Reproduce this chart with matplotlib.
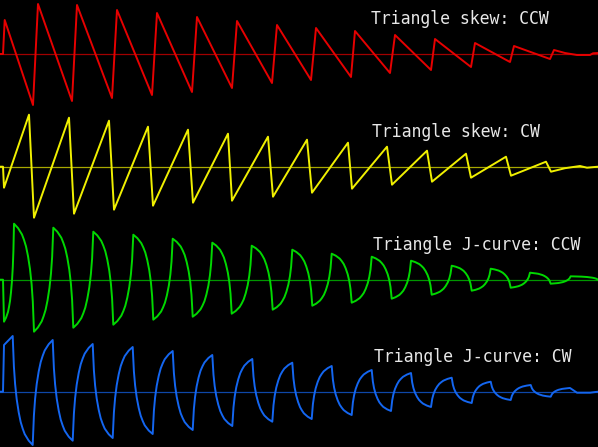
import matplotlib
matplotlib.use("Agg")
import matplotlib.pyplot as plt

# Key points of each trace (x = sample, y = amplitude, up is positive)
red_x = [0, 3, 4.7, 33, 38, 72, 77, 112, 117, 152, 157, 192, 197, 232, 237, 272, 277,
         311, 316, 351, 355, 390, 395, 431, 435, 471, 475, 510, 514, 550, 554, 565, 577, 590, 593, 598]
red_y = [0, 0, 34, -51, 50, -47, 49, -44, 44, -41, 41, -38, 37, -34, 33, -29, 29,
         -26, 26, -23, 23, -19, 19, -16, 15, -13, 11, -8, 8, -5, 4, 1, -1, -1, 0.7, 1]

yellow_x = [0, 3, 4, 29, 34, 69, 74, 109, 114, 148, 153, 188, 193, 228, 232, 268, 273,
            307, 312, 348, 352, 387, 392, 427, 432, 466, 471, 506, 511, 546, 551, 565, 580, 587, 598]
yellow_y = [0, 0, -21, 52, -51, 49, -47, 46, -43, 40, -39, 37, -36, 33, -34, 30, -30,
            27, -26, 24, -22, 20, -18, 16, -15, 13, -11, 10, -9, 5, -5, -1.5, 0.7, -1, 0]

green_x = [0, 3, 4, 14, 34, 53.3, 73.3, 93.3, 113.3, 133.3, 153.3, 172.7, 192.7, 212.3, 231.7,
           251.7, 272.7, 292.3, 312.3, 331.7, 351.7, 371.7, 391.7, 411, 431.7, 451.7, 471.7,
           490.7, 510.7, 530, 550.7, 570.7, 598]
green_y = [0, 0, -42, 56, -52, 52, -48, 48, -45, 45, -40, 41, -37, 37, -34,
           34, -30, 30, -26, 26, -23, 23, -19, 19, -15, 14, -11,
           11, -8, 7, -4, 3.4, 0]

blue_x = [0, 3, 4, 12.7, 32.7, 52.7, 72.7, 92.7, 112.7, 132.7, 152.7, 172.7, 192.7, 212.3,
          232.3, 252.3, 272.3, 292.3, 311.7, 331.7, 351.7, 371.7, 391, 411, 431, 451.7,
          471.7, 490.7, 510.7, 530.7, 550.7, 570, 577, 590, 598]
blue_y = [0, 0, 46.7, 55.7, -53.3, 51.7, -49, 47.7, -46.3, 44.7, -42.3, 40.7, -38.3, 36.7,
          -34.3, 32.7, -30, 29, -27.3, 25.7, -23.3, 21.7, -19.3, 18.7, -15.3, 14,
          -11.3, 10, -8.3, 6.7, -5, 3.7, -1, -1, 0]

# J-curve profile read from one green half cycle (fraction of time, fraction of swing)
ccw_t = [0, 0.1, 0.2, 0.3, 0.4, 0.5, 0.6, 0.7, 0.8, 0.88, 0.94, 0.97, 1]
ccw_f = [0, 0.02, 0.04, 0.07, 0.1, 0.15, 0.21, 0.3, 0.42, 0.56, 0.72, 0.85, 1]
# CW is the mirror image of it
cw_t = [1 - t for t in reversed(ccw_t)]
cw_f = [1 - f for f in reversed(ccw_f)]

labels = ["Triangle skew: CCW", "Triangle skew: CW",
          "Triangle J-curve: CCW", "Triangle J-curve: CW"]


def shape(xs, ys, pt, pf, start, stop):
    ox, oy = list(xs[:start + 1]), list(ys[:start + 1])
    for i in range(start, len(xs) - 1):
        if i < stop:
            for t, f in zip(pt[1:], pf[1:]):
                ox.append(xs[i] + t * (xs[i + 1] - xs[i]))
                oy.append(ys[i] + f * (ys[i + 1] - ys[i]))
        else:
            ox.append(xs[i + 1])
            oy.append(ys[i + 1])
    return ox, oy


gx, gy = shape(green_x, green_y, ccw_t, ccw_f, 2, len(green_x) - 1)
bx, by = shape(blue_x, blue_y, cw_t, cw_f, 3, len(blue_x) - 4)

traces = [(red_x, red_y, "#e60000"),
          (yellow_x, yellow_y, "#f0f000"),
          (gx, gy, "#00d800"),
          (bx, by, "#1466f0")]
centers = [54, 166.7, 279.7, 391.7]
label_x = [371, 372.5, 373, 374]

fig = plt.figure(figsize=(5.98, 4.47), dpi=100, facecolor="black")
ax = fig.add_axes([0, 0, 1, 1])
ax.set_facecolor("black")
ax.set_xlim(0, 598)
ax.set_ylim(447, 0)
ax.axis("off")

for (xs, ys, col), c, lab, lx in zip(traces, centers, labels, label_x):
    ax.axhline(c, color=col, lw=0.9, alpha=0.7)
    ax.plot(xs, [c - v for v in ys], color=col, lw=1.4, solid_joinstyle="round")
    ax.text(lx, c - 35, lab, color="#e8e8e8", fontsize=11.9,
            family="DejaVu Sans Mono", ha="left", va="center")

fig.savefig("out.png", dpi=100, facecolor="black")
